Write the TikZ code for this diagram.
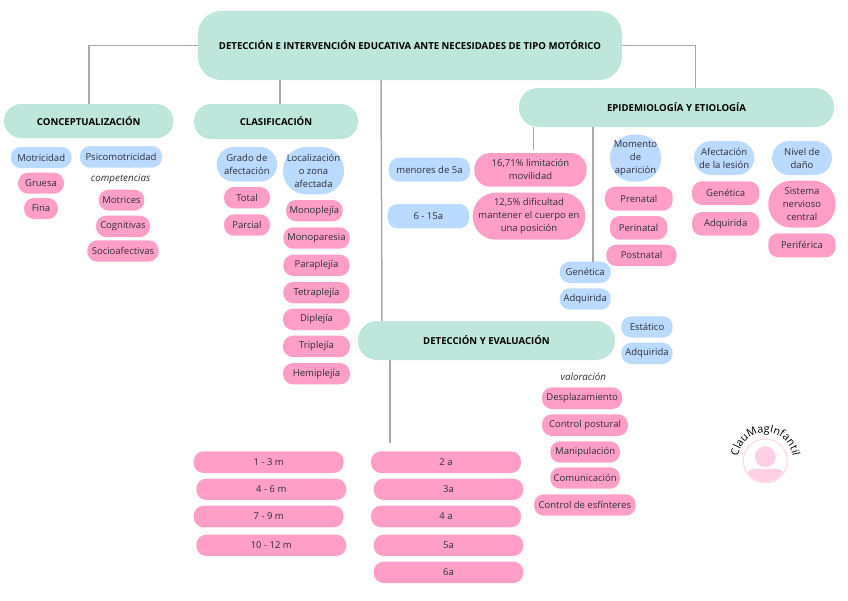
\documentclass[tikz,border=0pt]{standalone}
\usepackage{fontspec}
\setmainfont{Open Sans}
\usetikzlibrary{calc,decorations.text}
\definecolor{mintc}{HTML}{BFE6DA}
\definecolor{bluec}{HTML}{BBDAFF}
\definecolor{pinkc}{HTML}{FF9FC7}
\definecolor{linec}{HTML}{A9A9A9}
\definecolor{inkc}{HTML}{2E2E38}
\definecolor{ringc}{HTML}{FFD0E4}
\tikzset{
  boxbase/.style={inner sep=0pt,align=center,text=inkc,font=\fontsize{9.5}{13}\selectfont},
  mintbox/.style={boxbase,fill=mintc,rounded corners=17pt,text=black,font=\fontsize{9.6}{13}\selectfont\bfseries},
  bluebox/.style={boxbase,fill=bluec,rounded corners=10pt},
  pinkbox/.style={boxbase,fill=pinkc,rounded corners=10pt},
  notelabel/.style={inner sep=0pt,text=inkc,font=\fontsize{9.8}{13}\selectfont\itshape},
  link/.style={draw=linec,line width=1.5pt}
}
% name, x0, y0, x1, y1, style, text
\newcommand{\bx}[7]{%
  \pgfmathsetmacro{\bxw}{#4-#2}\pgfmathsetmacro{\bxh}{#5-#3}%
  \pgfmathsetmacro{\bxcx}{(#2+#4)/2}\pgfmathsetmacro{\bxcy}{(#3+#5)/2}%
  \node[#6,minimum width=\bxw pt,minimum height=\bxh pt] (#1) at (\bxcx,\bxcy) {#7};%
}
\begin{document}
\begin{tikzpicture}[x=1pt,y=-1pt]
\useasboundingbox (0,0) rectangle (848,600);
\bx{root}{198}{11}{622}{80}{mintbox,rounded corners=23pt}{DETECCIÓN E INTERVENCIÓN EDUCATIVA ANTE NECESIDADES DE TIPO MOTÓRICO}
\bx{conc}{4}{104}{173.5}{138}{mintbox}{CONCEPTUALIZACIÓN}
\bx{clas}{194}{104}{358}{139}{mintbox}{CLASIFICACIÓN}
\bx{epi}{519}{88}{834}{127}{mintbox,rounded corners=19pt}{EPIDEMIOLOGÍA Y ETIOLOGÍA}
\bx{det}{358}{321}{615}{360}{mintbox,rounded corners=19pt}{DETECCIÓN Y EVALUACIÓN}
% conceptualizacion
\bx{motr}{10.7}{147}{71.7}{168}{bluebox}{Motricidad}
\bx{psic}{80}{146}{162}{167.7}{bluebox}{Psicomotricidad}
\node[notelabel] (comp) at (120.7,179) {competencias};
\bx{grue}{18}{172.7}{64}{193.7}{pinkbox}{Gruesa}
\bx{fina}{24}{198}{58}{219}{pinkbox}{Fina}
\bx{mots}{98.7}{189.7}{144.3}{210.7}{pinkbox}{Motrices}
\bx{cogn}{96}{215.7}{150}{237}{pinkbox}{Cognitivas}
\bx{soci}{87.3}{240.3}{158.7}{261.7}{pinkbox}{Socioafectivas}
% clasificacion
\bx{grad}{216.7}{147}{277}{181.7}{bluebox,rounded corners=17pt}{Grado de\\afectación}
\bx{loca}{283}{147}{344}{194.3}{bluebox,rounded corners=23pt}{Localización\\o zona\\afectada}
\bx{tota}{224}{187}{270}{208.3}{pinkbox}{Total}
\bx{parc}{224}{214.3}{270}{235.7}{pinkbox}{Parcial}
\bx{mono}{286}{200}{342.7}{221.3}{pinkbox}{Monoplejía}
\bx{mpar}{283.3}{227.3}{349.7}{248.7}{pinkbox}{Monoparesia}
\bx{para}{283.3}{254.7}{349.7}{276}{pinkbox}{Paraplejía}
\bx{tetr}{283.3}{282}{349.7}{303.3}{pinkbox}{Tetraplejía}
\bx{dipl}{283}{308.7}{350}{330}{pinkbox}{Diplejía}
\bx{trip}{283}{335.7}{350}{357}{pinkbox}{Triplejía}
\bx{hemi}{283}{363}{350}{384.3}{pinkbox}{Hemiplejía}
% epidemiologia
\bx{meno}{389}{157.7}{470}{181.7}{bluebox}{menores de 5a}
\bx{seis}{387.7}{204}{469}{228.3}{bluebox}{6 - 15a}
\bx{limi}{474.3}{153}{586.7}{186.7}{pinkbox,rounded corners=16pt}{16,71\% limitación\\movilidad}
\bx{difi}{472.7}{192.7}{585.3}{239.7}{pinkbox,rounded corners=23pt}{12,5\% dificultad\\mantener el cuerpo en\\una posición}
\bx{mome}{610}{134.7}{661}{181.7}{bluebox,rounded corners=23pt}{Momento\\de\\aparición}
\bx{pren}{605}{186.7}{672.7}{210.7}{pinkbox}{Prenatal}
\bx{peri}{610}{216}{667.3}{239.7}{pinkbox}{Perinatal}
\bx{post}{606.3}{244.7}{676.7}{266}{pinkbox}{Postnatal}
\bx{afec}{694}{141}{754.3}{175}{bluebox,rounded corners=17pt}{Afectación\\de la lesión}
\bx{gen1}{692}{181.3}{759.3}{205}{pinkbox}{Genética}
\bx{adq1}{692}{212}{759.3}{235.7}{pinkbox}{Adquirida}
\bx{nive}{772}{141}{832}{175}{bluebox,rounded corners=17pt}{Nivel de\\daño}
\bx{sist}{768.3}{180.7}{835.7}{227.7}{pinkbox,rounded corners=23pt}{Sistema\\nervioso\\central}
\bx{perf}{768.3}{233.3}{835.7}{257.3}{pinkbox}{Periférica}
\bx{gen2}{559.7}{261.7}{610.7}{283}{bluebox}{Genética}
\bx{adq2}{559.7}{288.3}{610.7}{309.7}{bluebox}{Adquirida}
% deteccion
\bx{esta}{621.3}{316.3}{672.7}{337.7}{bluebox}{Estático}
\bx{adq3}{621.3}{342.7}{672.7}{364}{bluebox}{Adquirida}
\node[notelabel] (valo) at (583.3,376.3) {valoración};
\bx{desp}{542}{387.3}{622.3}{409}{pinkbox}{Desplazamiento}
\bx{cpos}{542}{414.3}{628}{436}{pinkbox}{Control postural}
\bx{mani}{550.3}{441.3}{620}{462.7}{pinkbox}{Manipulación}
\bx{comu}{550.3}{467.3}{620}{488.7}{pinkbox}{Comunicación}
\bx{cesf}{534}{494.3}{635.7}{515.7}{pinkbox}{Control de esfínteres}
% edades
\bx{m13}{193.7}{451.3}{343.7}{473}{pinkbox}{1 - 3 m}
\bx{m46}{196.3}{478.7}{346.3}{500}{pinkbox}{4 - 6 m}
\bx{m79}{193.7}{505.7}{343.7}{527.3}{pinkbox}{7 - 9 m}
\bx{m1012}{196.3}{534.7}{346.3}{556}{pinkbox}{10 - 12 m}
\bx{a2}{371}{451.3}{521}{473}{pinkbox}{2 a}
\bx{a3}{373.7}{478.7}{523.3}{500}{pinkbox}{3a}
\bx{a4}{371}{505.7}{521}{527.3}{pinkbox}{4 a}
\bx{a5}{373.7}{534.7}{523.3}{556}{pinkbox}{5a}
\bx{a6}{373.7}{561.7}{523.3}{583}{pinkbox}{6a}
% connectors
\coordinate (rs1) at (280,90);
\coordinate (rs2) at (381,90);
\coordinate (ds2) at (382,310);
\coordinate (rs3) at (695.5,70);
\coordinate (ep1) at (533.5,150);
\coordinate (ep2) at (593,261.5);
\coordinate (de1) at (390,443);
\draw[link] (root.west) -| (conc.north);
\draw[link] (root.south -| rs1) -- (clas.north -| rs1);
\draw[link] (root.south -| rs2) -- (det.north -| ds2);
\draw[link] (root.east) -| (epi.north -| rs3);
\draw[link] (epi.south -| ep1) -- (ep1);
\draw[link] (epi.south -| ep2) -- (ep2);
\draw[link] (det.south -| de1) -- (de1);
% logo
\begin{scope}
\clip (765.3,461) circle[radius=21];
\fill[ringc,rounded corners=8pt] (746,469) rectangle (785,490);
\end{scope}
\draw[ringc,line width=0.9pt] (765.3,461) circle[radius=22];
\fill[ringc] (765.3,456.7) circle[radius=10.5];
\path[decorate,decoration={text along path,text align=center,text color=black,text={|\fontsize{10.8}{12}\selectfont|ClauMagInfantil}}]
  (737.5,466) .. controls (736,445) and (750,432.5) .. (765.3,432.5) .. controls (780.6,432.5) and (794.6,445) .. (793.1,466);
\end{tikzpicture}
\end{document}
